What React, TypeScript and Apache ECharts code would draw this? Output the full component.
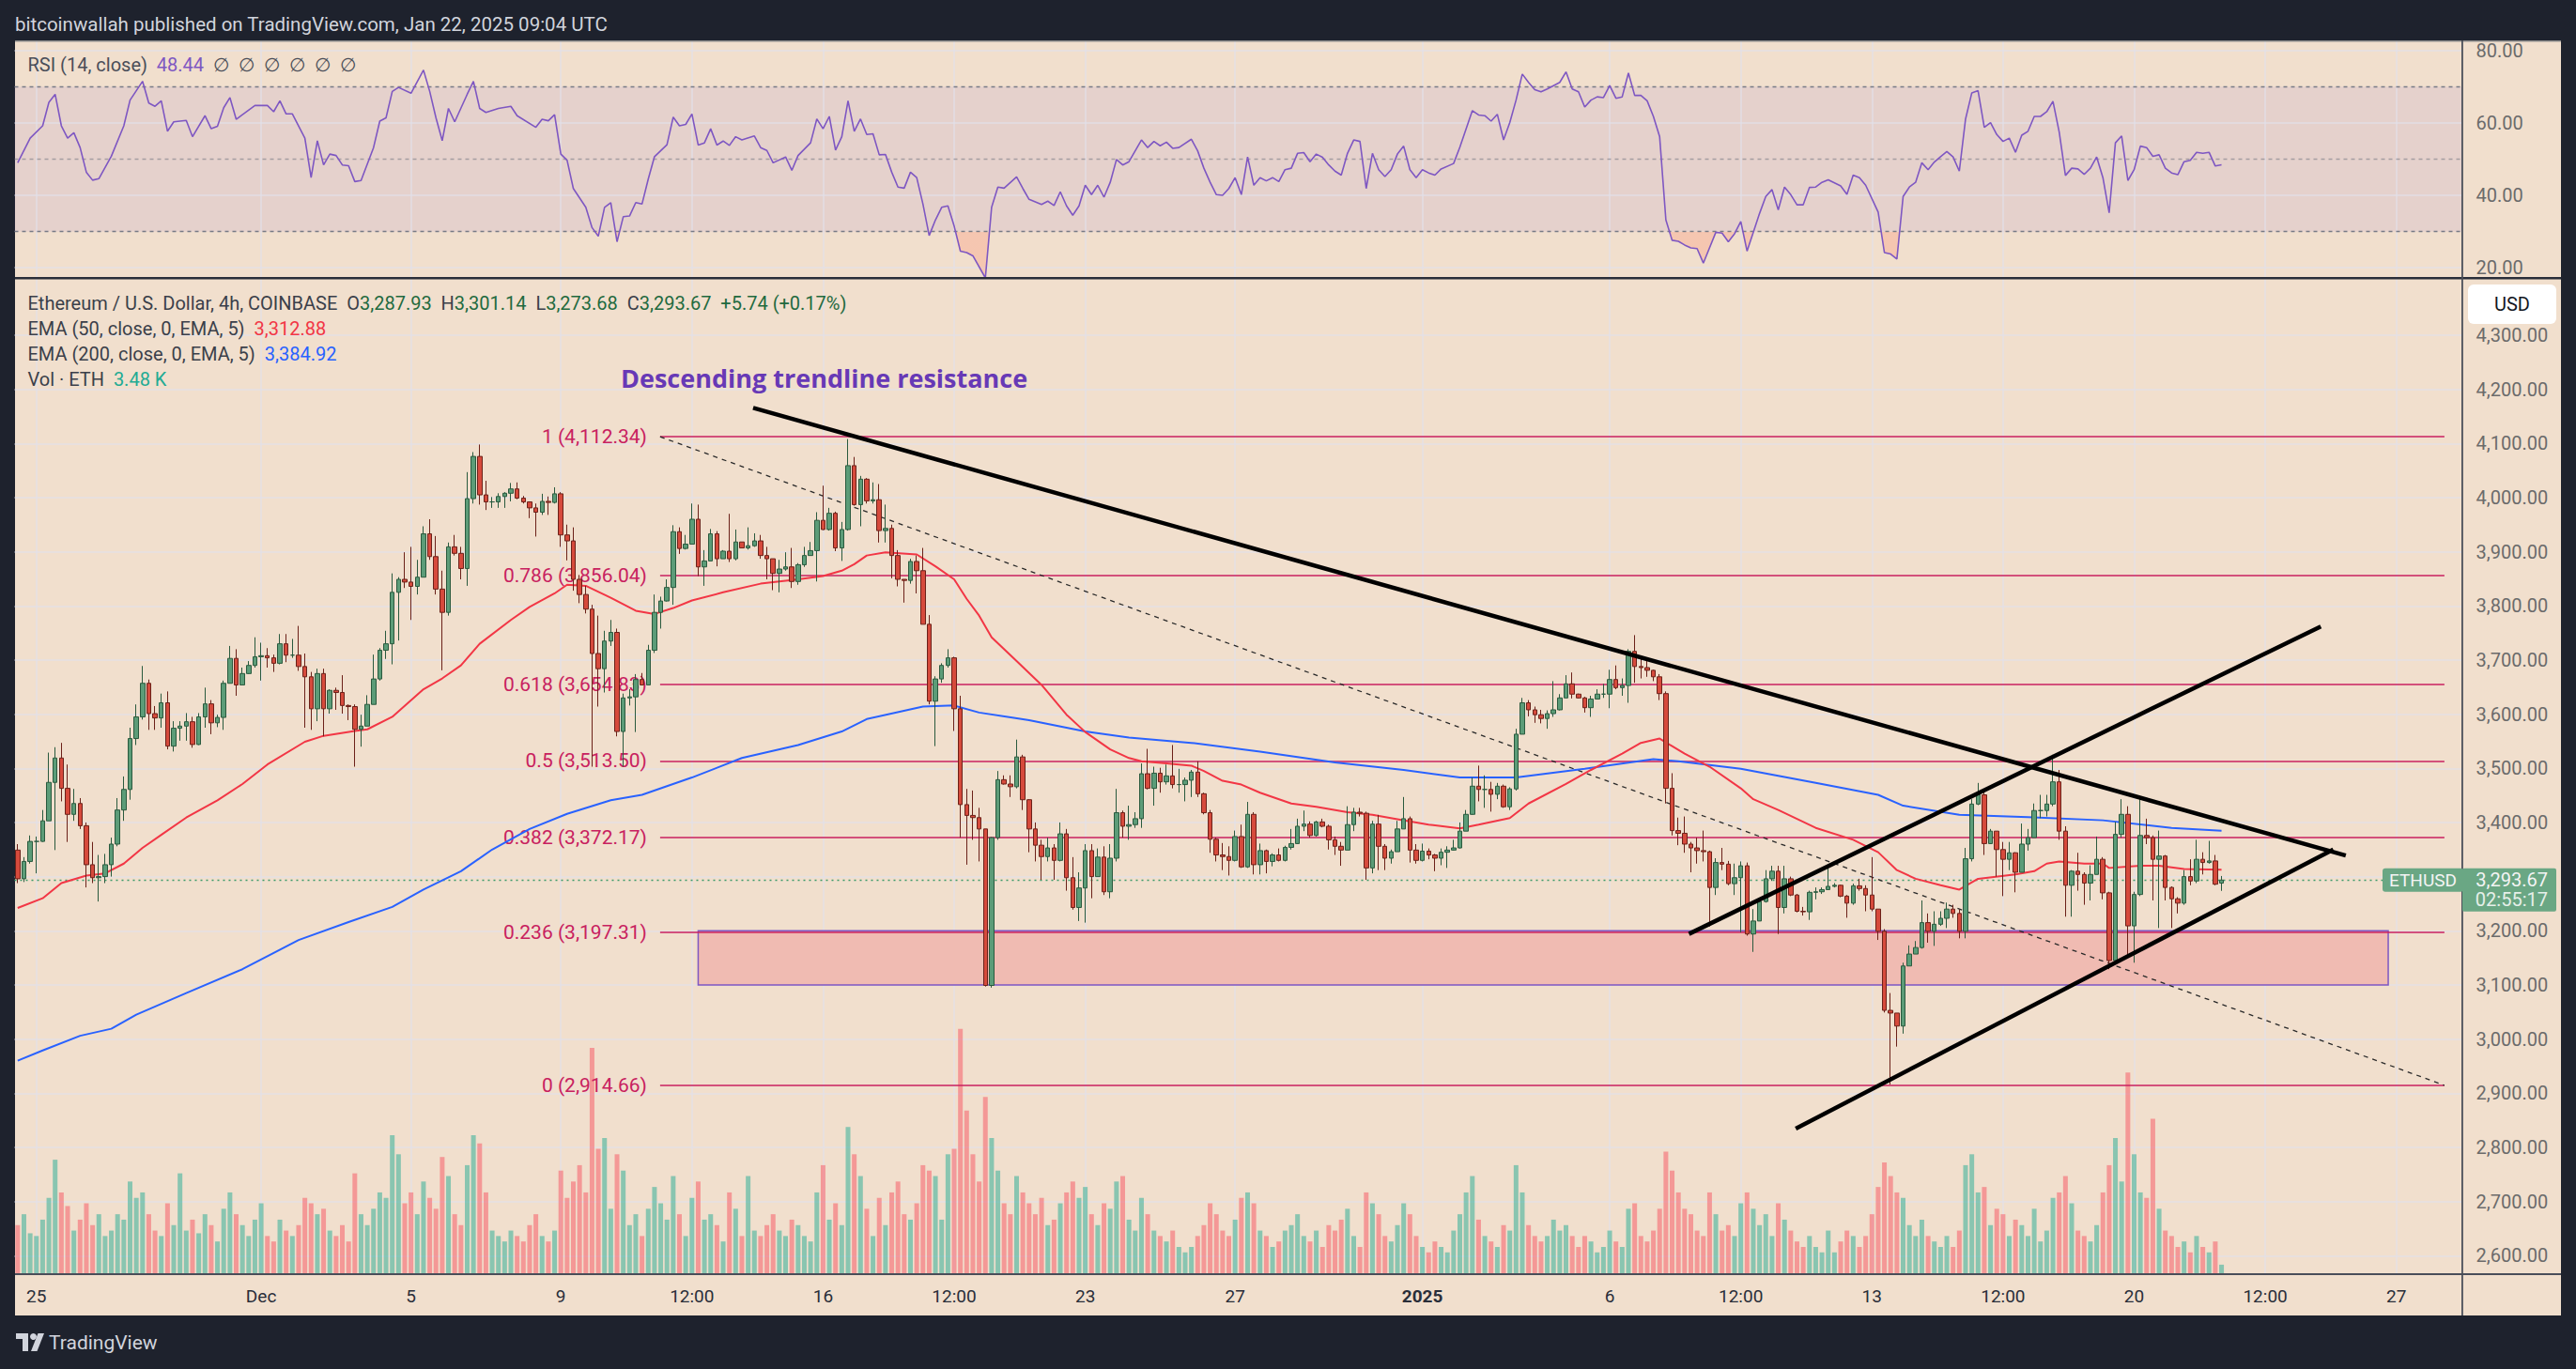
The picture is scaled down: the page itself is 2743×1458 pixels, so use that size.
import React, { useEffect, useRef } from "react";
import * as echarts from "echarts";

// ---- data (4h candles, first candle = 2024-11-24 12:00 UTC, index 0) ----
const firstOpen = 3349;
const closes = [
  3296,3328,3365,3365,3403,3474,3519,3463,3415,3435,
  3394,3322,3298,3300,3322,3360,3423,3461,3555,3595,
  3657,3601,3593,3621,3541,3574,3578,3586,3544,3595,
  3619,3584,3594,3657,3703,3654,3675,3690,3706,3708,
  3704,3694,3730,3709,3709,3688,3669,3610,3675,3610,
  3644,3640,3616,3614,3572,3578,3618,3665,3718,3730,
  3825,3849,3844,3836,3853,3933,3891,3831,3788,3909,
  3897,3869,3998,4076,4005,3992,3992,4002,4008,4016,
  3999,3992,3981,3973,3993,3991,4007,3931,3920,3849,
  3821,3794,3712,3684,3735,3751,3568,3630,3632,3664,
  3654,3718,3788,3809,3834,3937,3906,3914,3960,3872,
  3883,3933,3887,3901,3887,3918,3907,3911,3920,3893,
  3887,3860,3868,3872,3845,3876,3893,3902,3958,3941,
  3971,3907,3941,4059,3987,4034,3994,3996,3939,3943,
  3893,3849,3847,3882,3865,3766,3624,3665,3690,3704,
  3610,3433,3413,3409,3388,3099,3372,3479,3471,3466,
  3521,3442,3388,3358,3337,3353,3330,3379,3298,3243,
  3279,3348,3300,3336,3272,3334,3418,3393,3396,3407,
  3490,3463,3491,3475,3486,3470,3470,3478,3493,3453,
  3418,3369,3340,3337,3330,3374,3318,3415,3322,3348,
  3328,3340,3330,3354,3361,3393,3397,3376,3401,3393,
  3368,3356,3349,3396,3419,3417,3316,3397,3356,3334,
  3346,3388,3407,3349,3330,3347,3340,3334,3345,3349,
  3353,3384,3415,3467,3461,3461,3452,3467,3429,3462,
  3563,3621,3608,3599,3592,3601,3608,3630,3656,3637,
  3630,3612,3628,3637,3637,3664,3649,3653,3716,3688,
  3686,3681,3669,3638,3463,3385,3380,3360,3353,3348,
  3346,3280,3326,3323,3287,3298,3320,3194,3218,3254,
  3296,3310,3243,3296,3266,3236,3235,3271,3272,3276,
  3282,3284,3264,3251,3283,3278,3266,3240,3199,3053,
  3048,3024,3135,3157,3169,3215,3199,3212,3223,3240,
  3232,3199,3333,3434,3451,3361,3384,3350,3332,3344,
  3308,3360,3372,3422,3422,3434,3475,3384,3284,3310,
  3304,3288,3304,3332,3270,3145,3378,3415,3209,3267,
  3376,3372,3332,3338,3280,3259,3251,3300,3292,3332,
  3326,3329,3286,3293.67,
];
const highs = [
  3360,3336,3376,3374,3423,3529,3539,3547,3507,3462,
  3445,3400,3364,3340,3342,3372,3445,3485,3575,3618,
  3689,3664,3615,3638,3642,3587,3587,3602,3595,3602,
  3649,3626,3599,3662,3726,3720,3686,3698,3742,3732,
  3722,3710,3748,3748,3739,3763,3712,3678,3684,3684,
  3646,3649,3672,3618,3618,3599,3635,3710,3722,3754,
  3860,3853,3899,3909,3885,3947,3960,3929,3865,3917,
  3931,3909,4047,4084,4098,4031,4001,4008,4010,4027,
  4028,4003,3993,3989,4007,4002,4019,4010,3950,3945,
  3857,3837,3802,3782,3754,3774,3758,3638,3646,3674,
  3676,3728,3821,3817,3849,3949,3945,3931,3989,3987,
  3903,3942,3938,3903,3970,3941,3918,3945,3934,3931,
  3909,3887,3885,3899,3907,3879,3909,3918,3973,4022,
  3981,3974,3955,4108,4075,4040,4036,4028,4025,3987,
  3950,3903,3849,3887,3893,3907,3783,3670,3694,3720,
  3706,3634,3462,3459,3427,3388,3373,3495,3487,3487,
  3553,3525,3443,3400,3368,3372,3360,3400,3388,3336,
  3308,3360,3360,3352,3356,3360,3462,3422,3431,3419,
  3509,3536,3503,3501,3507,3543,3499,3483,3497,3513,
  3455,3423,3372,3362,3356,3385,3396,3438,3419,3361,
  3350,3343,3352,3357,3388,3407,3422,3402,3403,3407,
  3396,3374,3364,3430,3427,3427,3420,3403,3414,3360,
  3350,3403,3447,3411,3360,3361,3352,3342,3352,3356,
  3368,3400,3423,3483,3505,3487,3475,3473,3470,3465,
  3573,3630,3626,3614,3608,3607,3661,3637,3672,3677,
  3638,3632,3634,3646,3656,3682,3690,3666,3720,3746,
  3702,3702,3682,3674,3642,3491,3409,3411,3364,3372,
  3385,3348,3334,3353,3329,3324,3328,3326,3240,3260,
  3312,3320,3320,3320,3300,3268,3244,3274,3280,3280,
  3316,3288,3285,3266,3287,3296,3284,3336,3240,3203,
  3085,3048,3141,3173,3181,3256,3232,3236,3236,3252,
  3248,3239,3353,3443,3473,3459,3388,3384,3364,3364,
  3345,3398,3388,3435,3451,3451,3525,3497,3393,3312,
  3344,3308,3321,3374,3336,3272,3401,3443,3430,3272,
  3449,3407,3376,3385,3340,3282,3262,3312,3332,3368,
  3345,3366,3340,3301.14,
];
const lows = [
  3288,3290,3324,3306,3364,3403,3349,3439,3364,3403,
  3388,3280,3288,3254,3288,3300,3356,3403,3442,3543,
  3590,3571,3571,3575,3535,3531,3551,3551,3538,3543,
  3575,3563,3576,3571,3657,3634,3654,3674,3686,3662,
  3686,3678,3692,3696,3704,3680,3575,3571,3587,3559,
  3601,3608,3601,3589,3503,3540,3578,3618,3662,3702,
  3692,3736,3833,3774,3821,3853,3885,3821,3681,3782,
  3893,3849,3837,3989,3987,3977,3981,3981,3981,3993,
  3997,3989,3962,3928,3968,3968,3989,3909,3884,3828,
  3805,3786,3503,3614,3640,3726,3559,3503,3616,3567,
  3653,3654,3713,3758,3808,3802,3896,3904,3914,3855,
  3837,3883,3873,3887,3881,3884,3907,3904,3909,3887,
  3849,3829,3825,3865,3833,3839,3872,3893,3845,3940,
  3939,3901,3883,3939,3985,3947,3989,3989,3917,3917,
  3851,3836,3806,3841,3823,3766,3618,3541,3658,3686,
  3569,3372,3322,3368,3328,3097,3095,3368,3470,3447,
  3463,3423,3345,3328,3294,3328,3294,3328,3274,3239,
  3218,3215,3260,3300,3266,3260,3328,3372,3368,3390,
  3390,3461,3431,3455,3470,3463,3455,3439,3447,3447,
  3415,3344,3328,3312,3302,3328,3316,3316,3304,3304,
  3306,3319,3328,3328,3350,3360,3384,3372,3374,3391,
  3350,3340,3320,3349,3384,3411,3294,3306,3312,3312,
  3324,3346,3388,3326,3324,3328,3332,3310,3321,3316,
  3348,3352,3384,3414,3439,3427,3420,3443,3427,3423,
  3459,3563,3596,3584,3583,3573,3595,3607,3630,3629,
  3629,3603,3595,3629,3630,3611,3646,3634,3621,3658,
  3666,3669,3661,3626,3435,3376,3358,3344,3308,3324,
  3328,3208,3266,3312,3284,3266,3197,3191,3161,3218,
  3252,3292,3194,3232,3264,3234,3228,3220,3258,3268,
  3276,3280,3262,3224,3248,3274,3236,3236,3183,3049,
  2916,2986,3010,3135,3157,3167,3178,3172,3209,3205,
  3224,3186,3186,3328,3432,3340,3360,3300,3264,3312,
  3271,3308,3348,3372,3408,3411,3430,3368,3226,3226,
  3274,3248,3256,3304,3258,3129,3141,3372,3153,3141,
  3264,3360,3256,3205,3256,3205,3232,3248,3284,3288,
  3304,3324,3284,3273.68,
];
// volume, thousands of ETH
const volumes = [
  18,22,15,14,20,28,42,30,25,16,
  20,26,18,22,14,16,22,20,34,28,
  30,22,16,14,26,18,37,16,20,15,
  22,18,12,24,30,22,18,14,20,26,
  14,12,20,16,14,18,28,26,22,24,
  16,14,18,12,37,22,18,24,30,28,
  51,44,26,30,22,34,28,24,43,36,
  22,18,40,51,48,30,16,14,12,16,
  14,12,18,22,14,12,16,38,28,34,
  40,30,83,46,50,24,44,38,18,22,
  14,24,32,26,20,36,22,14,28,34,
  20,22,18,12,30,24,14,36,16,14,
  18,22,16,14,20,18,14,12,30,40,
  20,26,18,54,44,36,24,14,28,18,
  30,34,22,20,26,40,38,36,20,44,
  46,90,60,44,34,65,50,38,26,22,
  36,30,26,22,28,18,20,26,30,34,
  28,32,22,18,26,24,34,36,20,16,
  28,22,16,14,12,16,10,8,10,14,
  18,26,22,16,14,20,28,30,26,16,
  14,10,12,16,18,22,14,12,16,10,
  18,16,20,24,14,10,30,26,22,14,
  12,18,26,22,14,10,8,12,10,8,
  16,22,30,36,20,14,12,10,18,16,
  40,30,18,14,12,14,20,16,18,14,
  10,14,12,8,10,16,12,10,24,26,
  14,12,16,24,45,38,30,24,22,16,
  14,30,22,16,18,14,26,30,24,18,
  22,14,26,20,16,12,10,14,10,8,
  16,8,12,16,14,10,14,22,32,41,
  36,30,28,18,14,20,14,12,10,14,
  10,16,40,44,30,32,18,24,22,14,
  20,18,14,24,12,16,28,30,36,26,
  16,14,12,18,30,40,50,34,74,44,
  30,28,57,24,16,14,10,12,8,14,
  10,8,12,3.48,
];
// EMA lines: [candle index, value]
const ema50Pts = [
  [0,3242],[4,3260],[7,3288],[11,3302],[14,3306],[17,3324],[20,3353],[23,3377],[27,3409],[32,3441],
  [36,3471],[40,3507],[46,3549],[49,3560],[54,3569],[56,3572],[60,3595],[65,3646],[68,3666],[71,3690],
  [74,3730],[79,3774],[82,3798],[86,3823],[88,3839],[91,3837],[95,3815],[99,3791],[102,3785],[105,3796],
  [108,3810],[113,3825],[119,3841],[125,3849],[129,3855],[132,3865],[134,3877],[136,3893],[139,3899],[144,3895],
  [147,3873],[150,3849],[152,3813],[154,3782],[156,3742],[160,3698],[164,3654],[168,3599],[171,3567],[175,3535],
  [178,3519],[180,3513],[184,3509],[188,3505],[190,3495],[193,3477],[196,3470],[199,3455],[204,3435],[208,3429],
  [213,3419],[217,3414],[221,3406],[226,3396],[231,3389],[234,3396],[239,3408],[242,3435],[248,3471],[252,3497],
  [257,3527],[260,3547],[263,3555],[265,3541],[267,3527],[271,3503],[276,3463],[278,3443],[282,3423],[288,3390],
  [294,3368],[298,3345],[301,3312],[304,3296],[308,3284],[311,3276],[314,3296],[320,3304],[323,3310],[325,3324],
  [327,3328],[331,3324],[334,3324],[335,3316],[340,3320],[343,3320],[347,3314],[353,3312.88],
];
const ema200Pts = [
  [0,2960],[4,2979],[10,3006],[15,3019],[19,3045],[27,3085],[36,3129],[45,3183],[53,3216],[60,3244],
  [65,3276],[71,3310],[76,3350],[82,3388],[88,3416],[95,3441],[100,3451],[108,3483],[116,3519],[125,3543],
  [132,3568],[136,3591],[145,3614],[150,3616],[154,3603],[162,3589],[171,3568],[178,3557],[188,3547],[199,3531],
  [211,3511],[222,3497],[231,3483],[240,3483],[251,3499],[262,3517],[266,3513],[276,3499],[288,3473],[298,3451],
  [302,3431],[311,3414],[322,3410],[334,3404],[345,3390],[353,3384.92],
];
const rsiPts = [
  [0,49],[2,55.8],[4,59.2],[5,65.7],[6,67.9],[7,59.2],[8,55.8],[9,57.3],[10,53.2],[11,46.4],
  [12,44.2],[13,44.6],[15,50.8],[17,59.2],[18,66.3],[20,71.5],[21,65.5],[22,64.6],[23,66.1],[24,57.7],
  [25,60.3],[27,60.7],[28,56.2],[30,62],[31,58.4],[32,59.1],[33,64.2],[34,67],[35,61],[36,62.3],
  [38,64.8],[40,64.8],[41,63.1],[42,66.1],[43,62.5],[44,62.5],[46,55.8],[47,44.9],[48,55.1],[49,48.4],
  [50,51.4],[51,51],[52,48.4],[53,48.2],[54,43.8],[55,44.1],[57,53.2],[58,60.5],[59,61.4],[60,68.7],
  [61,69.8],[63,68.2],[65,74.6],[66,68.7],[67,61.4],[68,55.1],[69,64],[70,60.3],[72,67.9],[73,71.5],
  [74,64],[75,62.9],[77,64],[79,64.6],[80,62],[83,58.8],[84,61],[85,60.6],[86,62.3],[87,51.4],
  [88,49.7],[89,41.9],[91,36.7],[92,31.1],[93,28.7],[94,36.7],[95,38],[96,27.2],[97,34.1],[98,34.3],
  [99,38],[100,37.6],[101,44.5],[102,50.7],[104,54],[105,61.6],[106,59.2],[107,59.6],[108,62.5],[109,53.9],
  [110,54.5],[111,58.4],[112,53.9],[113,55],[114,53.8],[115,56.2],[116,55.3],[118,56.4],[119,53.2],[120,52.4],
  [121,49],[123,50.6],[124,46.9],[125,51],[127,54.5],[128,61.1],[129,58.4],[130,61.8],[131,52.5],[132,56.2],
  [133,66.1],[134,57.7],[135,61.1],[136,56.8],[137,57],[138,51.2],[139,51.3],[140,46.4],[141,42.3],[142,42],
  [143,46.4],[144,44.9],[145,37.6],[146,28.9],[147,33.2],[148,36.7],[149,37.1],[150,31.5],[151,24.6],[152,24.2],
  [153,23.3],[155,17.2],[156,36.7],[157,42.3],[158,42],[160,45.1],[161,41.9],[162,38.9],[164,37.5],[165,38.4],
  [166,37.2],[167,41],[168,37.1],[169,34.5],[170,37.1],[171,42.8],[172,40.2],[173,42.8],[174,39.5],[175,43.6],
  [176,49.9],[177,48.4],[178,49.3],[180,55.3],[181,53.2],[182,54.9],[183,53.7],[184,54.7],[185,53],[186,53.2],
  [188,55.5],[189,52.3],[190,47.5],[191,43.6],[192,40.2],[193,40],[194,41.9],[195,44.9],[196,40.2],[197,50.6],
  [198,42.8],[199,44.9],[200,44],[201,44.9],[202,43.8],[203,47.1],[204,47.5],[205,51.6],[206,51.8],[207,49.3],
  [208,51.4],[209,50.5],[210,48.4],[211,46.7],[212,45.6],[213,51.6],[214,55.3],[215,54.9],[216,41.9],[217,51.6],
  [218,47.1],[219,45.2],[220,47.1],[221,51.4],[222,53.6],[223,47.1],[224,44.9],[225,47.1],[226,46.2],[227,45.6],
  [228,47.3],[230,48.8],[231,53.3],[233,63.4],[234,62.2],[235,62],[236,60.5],[237,62.4],[238,55.3],[239,60.1],
  [240,66.3],[241,73.5],[242,71.2],[243,69.2],[244,68.6],[245,69.4],[247,71.2],[248,74.1],[249,69.4],[250,68.6],
  [251,64.4],[252,66.3],[253,67.2],[254,67],[255,70.3],[256,66.8],[257,67.2],[258,73.8],[259,67.6],[260,67.6],
  [261,66.1],[262,61.8],[263,56.2],[264,33.2],[265,27.6],[266,27.3],[267,26.3],[268,25.5],[269,25.3],[270,21.3],
  [272,29.8],[273,29.6],[274,27.2],[275,29.4],[276,32.8],[277,24.6],[278,29.8],[279,35],[280,39.7],[281,41.6],
  [282,36],[283,42.3],[284,40.2],[285,37.4],[286,37.4],[287,42.2],[288,42.3],[289,43.6],[290,44.3],[292,42.6],
  [293,40.3],[294,45.6],[295,44.9],[296,42.8],[298,35.4],[299,24.2],[300,23.8],[301,22.4],[302,39.7],[303,42.3],
  [304,43.6],[305,49],[306,47.1],[307,49.2],[308,50.7],[309,52.1],[310,50.6],[311,46.7],[312,61.1],[313,68.3],
  [314,68.9],[315,58.8],[316,60.1],[317,56.8],[318,54.9],[319,55.8],[320,51.9],[321,56.6],[322,57.7],[323,61.8],
  [324,61.8],[325,63.1],[326,66],[327,57.5],[328,45.5],[329,47.5],[330,47.3],[331,45.8],[332,47.5],[333,50.6],
  [334,44.9],[335,35.2],[336,54.5],[337,56.4],[338,44.1],[339,47.1],[340,53.6],[341,53.2],[342,50.8],[343,51.2],
  [344,47.5],[345,46.2],[346,45.7],[347,49.3],[348,49.7],[349,51.9],[350,51.6],[351,51.9],[352,48.1],[353,48.44],
];
// fibonacci retracement
const fibRatios = ["1", "0.786", "0.618", "0.5", "0.382", "0.236", "0"];
const fibPrices = [4112.34, 3856.04, 3654.83, 3513.5, 3372.17, 3197.31, 2914.66];
const fibRange = [102.9, 388.7]; // candle index span of fib lines
// drawings: [candle index, price]
const descTrend = [[117.8, 4165.7], [372.9, 3339]];
const lowerTrend = [[284.8, 2834.5], [370.9, 3350]];
const upperTrend = [[267.7, 3194.2], [368.9, 3762]];
const fibDiagonal = [[102.9, 4112.34], [388.7, 2914.66]];
const demandZone = { from: 109, to: 379.7, low: 3100, high: 3200 };
// axes
const priceTicks = [2600,2700,2800,2900,3000,3100,3200,3300,3400,3500,3600,3700,3800,3900,4000,4100,4200,4300];
const rsiTicks = [20, 40, 60, 80];
const timeTickIdx = [3, 39, 63, 87, 108, 129, 150, 171, 195, 225, 255, 276, 297, 318, 339, 360, 381];
const timeTickLabels = ["25", "Dec", "5", "9", "12:00", "16", "12:00", "23", "27", "2025", "6", "12:00", "13", "12:00", "20", "12:00", "27"];
const lastBar = { o: 3287.93, h: 3301.14, l: 3273.68, c: 3293.67, chg: "+5.74 (+0.17%)" };
const ema50Last = 3312.88;
const ema200Last = 3384.92;
const volLast = "3.48 K";
const rsiLast = 48.44;

const BG = "#f1dfcd";
const DARK = "#1e222d";
const FIB = "#c8215f";
const GRIDC = "rgba(226,226,236,0.75)";
const FONT = "Roboto";
const LS = 20; // legend font size

const fmt2 = (v: number) => v.toLocaleString("en-US", { minimumFractionDigits: 2, maximumFractionDigits: 2 });

export default function App() {
  const ref = useRef<HTMLDivElement>(null);
  useEffect(() => {
    const el = ref.current as HTMLDivElement;
    const chart = echarts.init(el, null, { renderer: "svg" });

    const candles = closes.map((c, i) => {
      const o = i === 0 ? firstOpen : i === closes.length - 1 ? lastBar.o : closes[i - 1];
      const h = Math.max(highs[i], o, c);
      const l = Math.min(lows[i], o, c);
      return [i, o, c, l, h];
    });
    const vols = volumes.map((v, i) => ({
      value: [i, v],
      itemStyle: { color: candles[i][2] >= candles[i][1] ? "rgba(34,171,148,0.5)" : "rgba(247,82,95,0.5)" },
    }));

    const xMin = -0.5, xMax = 391.5;
    const gridL = 15.5, gridW = 2606;
    const xAxisBase = { type: "value", min: xMin, max: xMax, show: false, splitLine: { show: false } };

    const vGrid = timeTickIdx.map((x) => ({ xAxis: x }));
    const gridLineStyle = { color: GRIDC, width: 1.5, type: "solid" };

    const trendSeries = (pts: number[][], width: number, dashed: boolean, z: number) => ({
      type: "line",
      xAxisIndex: 1,
      yAxisIndex: 1,
      data: pts,
      showSymbol: false,
      symbol: "none",
      silent: true,
      z,
      lineStyle: { color: dashed ? "#2a2a2a" : "#000000", width, type: dashed ? [5, 5] : "solid" },
    });

    const option: any = {
      animation: false,
      backgroundColor: "transparent",
      grid: [
        { left: gridL, top: 43, width: gridW, height: 253 },
        { left: gridL, top: 297, width: gridW, height: 1060 },
        { left: gridL, top: 1090, width: gridW, height: 267 },
      ],
      xAxis: [
        { ...xAxisBase, gridIndex: 0 },
        {
          ...xAxisBase,
          gridIndex: 1,
          show: true,
          axisLine: { show: false },
          axisTick: { show: false },
          axisLabel: {
            customValues: timeTickIdx,
            margin: 14,
            color: "#2a2e39",
            fontSize: 19,
            fontFamily: FONT,
            formatter: (v: number) => {
              const k = timeTickIdx.indexOf(Math.round(v));
              if (k < 0) return "";
              return timeTickLabels[k] === "2025" ? "{b|2025}" : timeTickLabels[k];
            },
            rich: { b: { fontWeight: "bold", fontSize: 19, fontFamily: FONT, color: "#2a2e39" } },
          },
        },
        { ...xAxisBase, gridIndex: 2 },
      ],
      yAxis: [
        {
          type: "value",
          gridIndex: 0,
          position: "right",
          min: 17.2,
          max: 82.8,
          axisLine: { show: false },
          axisTick: { show: false },
          splitLine: { show: false },
          axisLabel: { customValues: rsiTicks, formatter: (v: number) => v.toFixed(2), color: "#6b6b6b", fontSize: 20, fontFamily: FONT, margin: 15 },
        },
        {
          type: "value",
          gridIndex: 1,
          position: "right",
          min: 2565.8,
          max: 4403.9,
          axisLine: { show: false },
          axisTick: { show: false },
          splitLine: { show: false },
          axisLabel: { customValues: priceTicks, formatter: (v: number) => fmt2(v), color: "#6b6b6b", fontSize: 20, fontFamily: FONT, margin: 15 },
        },
        { type: "value", gridIndex: 2, min: 0, max: 92, show: false, splitLine: { show: false } },
      ],
      visualMap: [
        {
          type: "piecewise",
          show: false,
          seriesIndex: 1,
          dimension: 1,
          pieces: [
            { gte: 0, lt: 30, color: "rgba(255,140,110,0.3)" },
            { gte: 30, lte: 100, color: "rgba(255,255,255,0)" },
          ],
        },
      ],
      series: [
        // 0: RSI pane background band + grid
        {
          type: "line",
          xAxisIndex: 0,
          yAxisIndex: 0,
          data: [],
          silent: true,
          markArea: {
            silent: true,
            z: 1,
            itemStyle: { color: "rgba(126,87,194,0.1)" },
            data: [[{ yAxis: 30 }, { yAxis: 70 }]],
          },
          markLine: {
            silent: true,
            z: 2,
            symbol: ["none", "none"],
            label: { show: false },
            lineStyle: gridLineStyle,
            data: [...vGrid, ...rsiTicks.map((v) => ({ yAxis: v }))],
          },
        },
        // 1: RSI oversold fill
        {
          type: "line",
          xAxisIndex: 0,
          yAxisIndex: 0,
          data: rsiPts,
          showSymbol: false,
          symbol: "none",
          silent: true,
          z: 3,
          lineStyle: { width: 0, opacity: 0 },
          areaStyle: { origin: 30, opacity: 1 },
        },
        // 2: RSI line + level lines
        {
          type: "line",
          xAxisIndex: 0,
          yAxisIndex: 0,
          data: rsiPts,
          showSymbol: false,
          symbol: "none",
          silent: true,
          z: 4,
          lineStyle: { color: "#7e57c2", width: 1.6 },
          markLine: {
            silent: true,
            z: 3,
            symbol: ["none", "none"],
            label: { show: false },
            data: [
              { yAxis: 70, lineStyle: { color: "#787b86", width: 1.3, type: [4, 4] } },
              { yAxis: 50, lineStyle: { color: "rgba(120,123,134,0.6)", width: 1.3, type: [4, 4] } },
              { yAxis: 30, lineStyle: { color: "#787b86", width: 1.3, type: [4, 4] } },
            ],
          },
        },
        // 3: main grid lines, demand zone
        {
          type: "line",
          xAxisIndex: 1,
          yAxisIndex: 1,
          data: [],
          silent: true,
          z: 2,
          markLine: {
            silent: true,
            z: 1,
            symbol: ["none", "none"],
            label: { show: false },
            lineStyle: gridLineStyle,
            data: [...vGrid, ...priceTicks.map((v) => ({ yAxis: v }))],
          },
          markArea: {
            silent: true,
            z: 3,
            itemStyle: { color: "#f0bbb2", borderColor: "#7e57c2", borderWidth: 1.5 },
            data: [[{ coord: [demandZone.from, demandZone.high] }, { coord: [demandZone.to, demandZone.low] }]],
          },
        },
        // 4: fib lines
        {
          type: "line",
          xAxisIndex: 1,
          yAxisIndex: 1,
          data: [],
          silent: true,
          z: 4,
          markLine: {
            silent: true,
            z: 4,
            symbol: ["none", "none"],
            lineStyle: { color: FIB, width: 1.5, type: "solid" },
            label: {
              show: true,
              position: "start",
              distance: 14,
              formatter: "{b}",
              color: FIB,
              fontSize: 21,
              fontFamily: FONT,
            },
            data: fibPrices.map((p, k) => [
              { coord: [fibRange[0], p], name: `${fibRatios[k]} (${fmt2(p)})` },
              { coord: [fibRange[1], p] },
            ]),
          },
        },
        trendSeries(fibDiagonal, 1.3, true, 5),
        // volume
        {
          type: "bar",
          xAxisIndex: 2,
          yAxisIndex: 2,
          data: vols,
          barWidth: 5,
          silent: true,
          z: 3,
        },
        // EMAs
        {
          type: "line",
          xAxisIndex: 1,
          yAxisIndex: 1,
          data: ema200Pts,
          showSymbol: false,
          symbol: "none",
          silent: true,
          z: 6,
          lineStyle: { color: "#2962ff", width: 2 },
        },
        {
          type: "line",
          xAxisIndex: 1,
          yAxisIndex: 1,
          data: ema50Pts,
          showSymbol: false,
          symbol: "none",
          silent: true,
          z: 6,
          lineStyle: { color: "#f23645", width: 2 },
        },
        // candles
        {
          type: "candlestick",
          xAxisIndex: 1,
          yAxisIndex: 1,
          data: candles,
          encode: { x: 0, y: [1, 2, 3, 4] },
          barWidth: 5,
          silent: true,
          z: 8,
          itemStyle: {
            color: "#5c9c78",
            color0: "#d64a3c",
            borderColor: "#2a5a3e",
            borderColor0: "#6b2119",
            borderWidth: 1,
          },
          markLine: {
            silent: true,
            z: 5,
            symbol: ["none", "none"],
            label: { show: false },
            lineStyle: { color: "#3d9a6a", width: 1.3, type: [2, 4] },
            data: [{ yAxis: lastBar.c }],
          },
        },
        trendSeries(descTrend, 4.5, false, 10),
        trendSeries(lowerTrend, 4.5, false, 10),
        trendSeries(upperTrend, 4.5, false, 10),
      ],
    };
    chart.setOption(option);

    const yLast = chart.convertToPixel({ yAxisIndex: 1 }, lastBar.c) as number;
    const green = "#6aa784";
    const T = (x: number, y: number, text: string, fill: string, size: number, extra: any = {}) => ({
      type: "text",
      x,
      y,
      z: 100,
      silent: true,
      style: { text, fill, fontSize: size, fontFamily: FONT, verticalAlign: "middle", align: "left", ...extra },
    });
    const rich = (c: string, extra: any = {}) => ({ fill: c, fontSize: LS, fontFamily: FONT, ...extra });

    const graphics: any[] = [
      { type: "rect", z: -100, silent: true, shape: { x: 16, y: 43, width: 2711, height: 1358 }, style: { fill: BG } },
      { type: "rect", z: 90, silent: true, shape: { x: 16, y: 43, width: 2711, height: 1.5 }, style: { fill: "#8a8a8a" } },
      { type: "rect", z: 90, silent: true, shape: { x: 16, y: 295, width: 2711, height: 2.5 }, style: { fill: "#2a2e39" } },
      { type: "rect", z: 90, silent: true, shape: { x: 16, y: 1356, width: 2711, height: 2 }, style: { fill: "#4a4e59" } },
      { type: "rect", z: 90, silent: true, shape: { x: 2621, y: 43, width: 1.8, height: 1358 }, style: { fill: "#4a4e59" } },
      T(16, 26, "bitcoinwallah published on TradingView.com, Jan 22, 2025 09:04 UTC", "#d1d4dc", 20.5),
      {
        type: "text", x: 29.5, y: 69, z: 100, silent: true,
        style: {
          text: `{g|RSI (14, close)  }{p|${rsiLast.toFixed(2)}}{g|  \u2205  \u2205  \u2205  \u2205  \u2205  \u2205}`,
          verticalAlign: "middle",
          fontSize: LS, fontFamily: FONT,
          rich: { g: rich("#4a4e59"), p: rich("#7e57c2") },
        },
      },
      {
        type: "text", x: 29.5, y: 323, z: 100, silent: true,
        style: {
          text: `{g|Ethereum / U.S. Dollar, 4h, COINBASE  O}{v|${fmt2(lastBar.o)}}{g|  H}{v|${fmt2(lastBar.h)}}{g|  L}{v|${fmt2(lastBar.l)}}{g|  C}{v|${fmt2(lastBar.c)}}{v|  ${lastBar.chg}}`,
          verticalAlign: "middle",
          fontSize: LS, fontFamily: FONT,
          rich: { g: rich("#3b3f4a"), v: rich("#1f6a3f") },
        },
      },
      {
        type: "text", x: 29.5, y: 350, z: 100, silent: true,
        style: { text: `{g|EMA (50, close, 0, EMA, 5)  }{r|${fmt2(ema50Last)}}`, verticalAlign: "middle", fontSize: LS, fontFamily: FONT, rich: { g: rich("#3b3f4a"), r: rich("#f23645") } },
      },
      {
        type: "text", x: 29.5, y: 377, z: 100, silent: true,
        style: { text: `{g|EMA (200, close, 0, EMA, 5)  }{b|${fmt2(ema200Last)}}`, verticalAlign: "middle", fontSize: LS, fontFamily: FONT, rich: { g: rich("#3b3f4a"), b: rich("#2962ff") } },
      },
      {
        type: "text", x: 29.5, y: 404, z: 100, silent: true,
        style: { text: `{g|Vol \u00b7 ETH  }{t|${volLast}}`, verticalAlign: "middle", fontSize: LS, fontFamily: FONT, rich: { g: rich("#3b3f4a"), t: rich("#22ab94") } },
      },
      T(661, 402, "Descending trendline resistance", "#6739b6", 27, { fontWeight: "bold", fontFamily: "Open Sans" }),
      { type: "rect", z: 95, silent: true, shape: { x: 2628, y: 303, width: 94, height: 42, r: 6 }, style: { fill: "#ffffff" } },
      T(2675, 324, "USD", "#131722", 20, { align: "center" }),
      // last price labels
      { type: "rect", z: 95, silent: true, shape: { x: 2537, y: yLast - 12.5, width: 86, height: 25, r: 3 }, style: { fill: green } },
      T(2580, yLast, "ETHUSD", "#f4f4f4", 19, { align: "center" }),
      { type: "rect", z: 95, silent: true, shape: { x: 2622, y: yLast - 12.5, width: 100, height: 46, r: 2 }, style: { fill: green } },
      T(2713, yLast, fmt2(lastBar.c), "#f4f4f4", 20, { align: "right" }),
      T(2713, yLast + 21, "02:55:17", "#e6efe9", 20, { align: "right" }),
      // TradingView logo
      { type: "rect", z: 100, silent: true, shape: { x: 17, y: 1420, width: 13, height: 6 }, style: { fill: "#d1d4dc" } },
      { type: "rect", z: 100, silent: true, shape: { x: 24, y: 1420, width: 6, height: 19 }, style: { fill: "#d1d4dc" } },
      { type: "circle", z: 100, silent: true, shape: { cx: 35.5, cy: 1423.5, r: 3.5 }, style: { fill: "#d1d4dc" } },
      { type: "polygon", z: 100, silent: true, shape: { points: [[33, 1439], [40.5, 1420], [47, 1420], [39.5, 1439]] }, style: { fill: "#d1d4dc" } },
      T(52, 1430, "TradingView", "#d1d4dc", 21),
    ];
    chart.setOption({ graphic: graphics });

    return () => chart.dispose();
  }, []);

  return (
    <div
      ref={ref}
      style={{ position: "absolute", left: 0, top: 0, width: 2743, height: 1458, background: DARK }}
    />
  );
}
